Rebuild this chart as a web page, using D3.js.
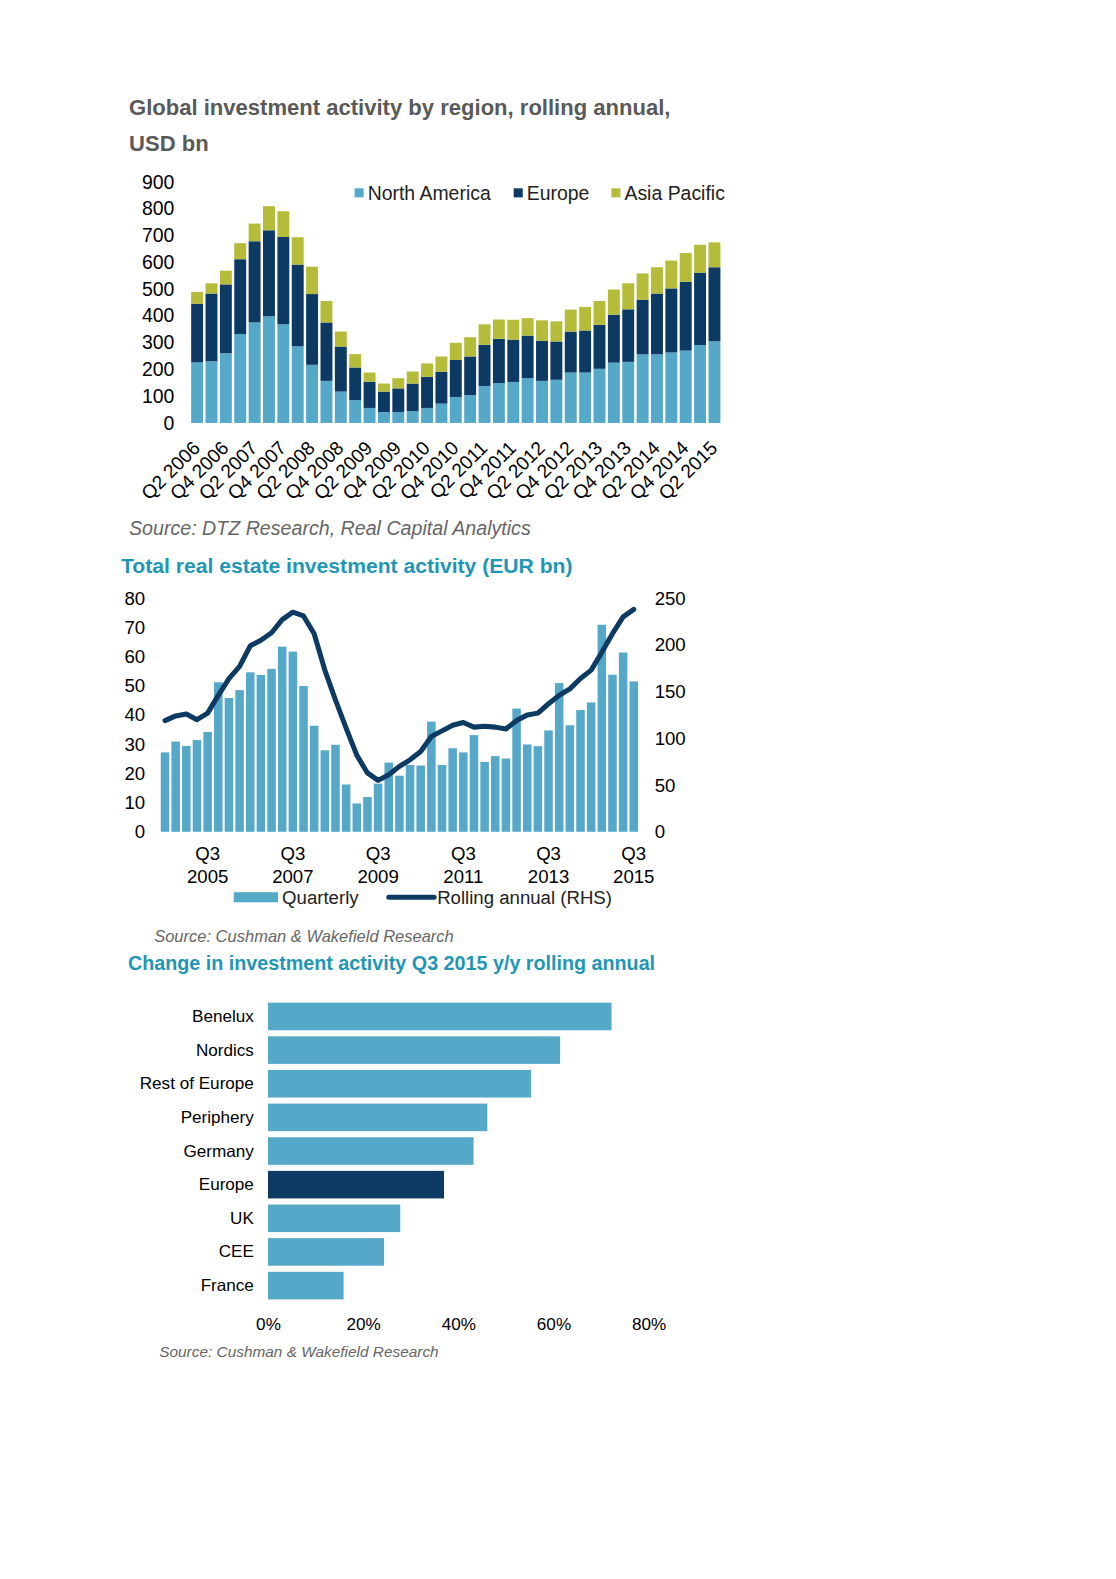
<!DOCTYPE html>
<html>
<head>
<meta charset="utf-8">
<script src="https://cdn.jsdelivr.net/npm/d3@7"></script>
<style>
  html, body { margin: 0; padding: 0; background: #fff; overflow: hidden; }
  svg { display: block; font-family: "Liberation Sans", Arial, sans-serif; }
</style>
</head>
<body>
<svg id="chart" width="1116" height="1579" viewBox="0 0 1108 1568"></svg>
<script>
// ---------- Chart 1: Global investment activity by region ----------
const quarters1 = ["Q2 2006","Q3 2006","Q4 2006","Q1 2007","Q2 2007","Q3 2007","Q4 2007","Q1 2008","Q2 2008","Q3 2008","Q4 2008","Q1 2009","Q2 2009","Q3 2009","Q4 2009","Q1 2010","Q2 2010","Q3 2010","Q4 2010","Q1 2011","Q2 2011","Q3 2011","Q4 2011","Q1 2012","Q2 2012","Q3 2012","Q4 2012","Q1 2013","Q2 2013","Q3 2013","Q4 2013","Q1 2014","Q2 2014","Q3 2014","Q4 2014","Q1 2015","Q2 2015"];
const northAmerica = [226,230,260,332,375,398,368,286,217,157,117,85,56,41,41,44,56,72,97,104,138,149,153,167,157,161,188,188,202,225,228,256,256,263,270,291,305];
const europe =       [219,253,257,279,303,321,326,305,264,218,168,122,98,76,88,103,116,119,138,144,154,165,158,159,150,143,153,157,164,179,196,204,227,239,257,270,276];
const asiaPacific =  [44,38,51,60,66,90,96,102,102,80,56,50,34,30,38,45,50,57,64,72,76,72,74,65,76,75,82,88,89,94,97,98,98,104,107,104,93];
const regionKeys = ["North America","Europe","Asia Pacific"];
const yTicks1 = [0,100,200,300,400,500,600,700,800,900];

// ---------- Chart 2: Total real estate investment activity ----------
const quarters2 = ["Q3 2004","Q4 2004","Q1 2005","Q2 2005","Q3 2005","Q4 2005","Q1 2006","Q2 2006","Q3 2006","Q4 2006","Q1 2007","Q2 2007","Q3 2007","Q4 2007","Q1 2008","Q2 2008","Q3 2008","Q4 2008","Q1 2009","Q2 2009","Q3 2009","Q4 2009","Q1 2010","Q2 2010","Q3 2010","Q4 2010","Q1 2011","Q2 2011","Q3 2011","Q4 2011","Q1 2012","Q2 2012","Q3 2012","Q4 2012","Q1 2013","Q2 2013","Q3 2013","Q4 2013","Q1 2014","Q2 2014","Q3 2014","Q4 2014","Q1 2015","Q2 2015","Q3 2015"];
const quarterly = [27.2,30.9,29.4,31.4,34.2,51.2,45.8,48.5,54.6,53.7,55.8,63.4,61.7,49.9,36.3,27.9,29.8,16.2,9.7,11.9,16.5,23.7,19.2,22.9,22.7,37.7,22.9,28.6,27.2,33.1,23.9,25.9,25.1,42.2,29.9,29.3,34.7,50.9,36.5,41.7,44.3,70.9,53.8,61.4,51.5];
const rollingAnnual = [119,124,126,120,127,146,164,177,199,205,213,227,235,231,212,173,141,111,82,63,55,61,70,77,86,102,108,114,117,112,113,112,110,119,125,127,137,146,153,164,173,192,212,230,238];
const yTicksLeft2 = [0,10,20,30,40,50,60,70,80];
const yTicksRight2 = [0,50,100,150,200,250];
const xTicks2 = ["Q3 2005","Q3 2007","Q3 2009","Q3 2011","Q3 2013","Q3 2015"];

// ---------- Chart 3: Change in investment activity ----------
const regions3 = ["Benelux","Nordics","Rest of Europe","Periphery","Germany","Europe","UK","CEE","France"];
const change3 = [0.722,0.614,0.553,0.461,0.432,0.370,0.278,0.244,0.159];
const xTicks3 = [0,0.2,0.4,0.6,0.8];

// ---------- Styles ----------
const C_LIGHT = "#56a8c8";
const C_NAVY = "#0d3a63";
const C_OLIVE = "#b4bc3a";
const C_TEAL = "#1f96b5";
const C_GREYTITLE = "#595959";
const FONT = "Liberation Sans, Arial, sans-serif";

const svg = d3.select("#chart");
svg.append("rect").attr("x",-20).attr("y",-20).attr("width",1160).attr("height",1620).attr("fill","#fff");

// ================= Chart 1 =================
{
  const g = svg.append("g");
  g.append("text").attr("x",128).attr("y",114).attr("font-size",21.9).attr("font-weight","bold")
    .attr("fill",C_GREYTITLE).text("Global investment activity by region, rolling annual,");
  g.append("text").attr("x",128).attr("y",150).attr("font-size",21.9).attr("font-weight","bold")
    .attr("fill",C_GREYTITLE).text("USD bn");

  const x = d3.scaleBand().domain(quarters1).range([189, 716]).paddingInner(0.17).paddingOuter(0.05);
  const y = d3.scaleLinear().domain([0,900]).range([420, 180.5]);
  const rows = quarters1.map((q,i)=>({q, "North America":northAmerica[i], "Europe":europe[i], "Asia Pacific":asiaPacific[i]}));
  const stack = d3.stack().keys(regionKeys)(rows);
  const color = d3.scaleOrdinal().domain(regionKeys).range([C_LIGHT, C_NAVY, C_OLIVE]);

  g.append("g").selectAll("g").data(stack).join("g").attr("fill", d=>color(d.key))
    .selectAll("rect").data(d=>d).join("rect")
    .attr("x", d=>x(d.data.q)).attr("width", x.bandwidth())
    .attr("y", d=>y(d[1])).attr("height", d=>y(d[0])-y(d[1]));

  const ya = g.append("g").attr("transform","translate(189,0)")
    .call(d3.axisLeft(y).tickValues(yTicks1).tickSize(0).tickPadding(16));
  ya.select(".domain").remove();
  ya.selectAll("text").attr("font-size",19.3).attr("fill","#000").attr("font-family",FONT);

  const xa = g.append("g").attr("transform","translate(0,420)")
    .call(d3.axisBottom(x).tickValues(quarters1.filter((q,i)=>i%2===0)).tickSize(0).tickPadding(0));
  xa.select(".domain").remove();
  xa.selectAll("text").attr("font-size",19).attr("fill","#000").attr("font-family",FONT)
    .attr("text-anchor","end").attr("y",0).attr("dy","0").attr("transform","translate(4,26) rotate(-45)");

  // legend
  const leg = g.append("g");
  const legX = [352, 510, 607];
  regionKeys.forEach((k,i)=>{
    leg.append("rect").attr("x",legX[i]).attr("y",187).attr("width",9).attr("height",9).attr("fill",color(k));
    leg.append("text").attr("x",legX[i]+13).attr("y",199).attr("font-size",19.3).attr("fill","#222").text(k);
  });

  g.append("text").attr("x",128).attr("y",531).attr("font-size",19.5).attr("font-style","italic")
    .attr("fill","#666").text("Source: DTZ Research, Real Capital Analytics");
}

// ================= Chart 2 =================
{
  const g = svg.append("g");
  g.append("text").attr("x",120).attr("y",569).attr("font-size",21).attr("font-weight","bold")
    .attr("fill",C_TEAL).text("Total real estate investment activity (EUR bn)");

  const x = d3.scaleBand().domain(quarters2).range([159, 634]).paddingInner(0.2).paddingOuter(0.05);
  const yL = d3.scaleLinear().domain([0,80]).range([826, 594]);
  const yR = d3.scaleLinear().domain([0,250]).range([826, 594]);

  g.append("g").selectAll("rect").data(quarters2).join("rect")
    .attr("x", q=>x(q)).attr("width", x.bandwidth())
    .attr("y", (q,i)=>yL(quarterly[i])).attr("height",(q,i)=>yL(0)-yL(quarterly[i]))
    .attr("fill", C_LIGHT);

  const line = d3.line().x((d,i)=>x(quarters2[i])+x.bandwidth()/2).y(d=>yR(d));
  g.append("path").datum(rollingAnnual).attr("d",line).attr("fill","none")
    .attr("stroke",C_NAVY).attr("stroke-width",5).attr("stroke-linejoin","round").attr("stroke-linecap","round");

  const ya = g.append("g").attr("transform","translate(159,0)")
    .call(d3.axisLeft(yL).tickValues(yTicksLeft2).tickSize(0).tickPadding(15));
  ya.select(".domain").remove();
  ya.selectAll("text").attr("font-size",18.5).attr("fill","#000").attr("font-family",FONT);

  const yr = g.append("g").attr("transform","translate(634,0)")
    .call(d3.axisRight(yR).tickValues(yTicksRight2).tickSize(0).tickPadding(16));
  yr.select(".domain").remove();
  yr.selectAll("text").attr("font-size",18.5).attr("fill","#000").attr("font-family",FONT);

  const xa = g.append("g").attr("transform","translate(0,826)")
    .call(d3.axisBottom(x).tickValues(xTicks2).tickSize(0).tickPadding(0).tickFormat(()=>""));
  xa.select(".domain").remove();
  xa.selectAll(".tick text").each(function(d){
    const parts = d.split(" ");
    const t = d3.select(this).attr("font-size",18.5).attr("fill","#000").attr("font-family",FONT).attr("dy",null).attr("y",0);
    t.append("tspan").attr("x",0).attr("y",28.5).text(parts[0]);
    t.append("tspan").attr("x",0).attr("y",50.5).text(parts[1]);
  });

  // legend
  g.append("rect").attr("x",232).attr("y",886).attr("width",44).attr("height",10).attr("fill",C_LIGHT);
  g.append("text").attr("x",280).attr("y",897.5).attr("font-size",18.5).attr("fill","#222").text("Quarterly");
  g.append("line").attr("x1",386).attr("x2",431).attr("y1",891).attr("y2",891)
    .attr("stroke",C_NAVY).attr("stroke-width",5).attr("stroke-linecap","round");
  g.append("text").attr("x",434).attr("y",897.5).attr("font-size",18.5).attr("fill","#222").text("Rolling annual (RHS)");

  g.append("text").attr("x",153).attr("y",935.5).attr("font-size",16.4).attr("font-style","italic")
    .attr("fill","#666").text("Source: Cushman & Wakefield Research");
}

// ================= Chart 3 =================
{
  const g = svg.append("g");
  g.append("text").attr("x",127).attr("y",963.5).attr("font-size",19.6).attr("font-weight","bold")
    .attr("fill",C_TEAL).text("Change in investment activity Q3 2015 y/y rolling annual");

  const y = d3.scaleBand().domain(regions3).range([994, 1292]).paddingInner(0.18).paddingOuter(0.05);
  const x = d3.scaleLinear().domain([0,0.8]).range([266, 644]);

  g.append("g").selectAll("rect").data(regions3).join("rect")
    .attr("x", x(0)).attr("y", r=>y(r)).attr("height", y.bandwidth())
    .attr("width",(r,i)=>x(change3[i])-x(0))
    .attr("fill", r=> r==="Europe" ? C_NAVY : C_LIGHT);

  const ya = g.append("g").attr("transform","translate(266,0)")
    .call(d3.axisLeft(y).tickSize(0).tickPadding(14));
  ya.select(".domain").remove();
  ya.selectAll("text").attr("font-size",17).attr("fill","#000").attr("font-family",FONT);

  const xa = g.append("g").attr("transform","translate(0,1302)")
    .call(d3.axisBottom(x).tickValues(xTicks3).tickFormat(d3.format(".0%")).tickSize(0).tickPadding(7));
  xa.select(".domain").remove();
  xa.selectAll("text").attr("font-size",17).attr("fill","#000").attr("font-family",FONT);

  g.append("text").attr("x",158).attr("y",1348).attr("font-size",15.3).attr("font-style","italic")
    .attr("fill","#666").text("Source: Cushman & Wakefield Research");
}
</script>
</body>
</html>
